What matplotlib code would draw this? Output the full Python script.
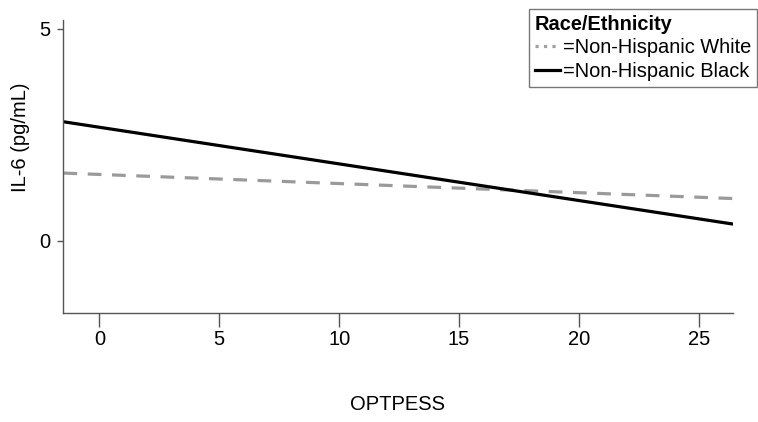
import matplotlib
matplotlib.use("Agg")
import matplotlib.pyplot as plt
from matplotlib.lines import Line2D

plt.rcParams['font.family'] = ['Liberation Sans', 'DejaVu Sans']

# --- Fitted lines (endpoints) ---
optpess = [-1.5, 26.4]
il6_white = [1.60, 1.00]
il6_black = [2.81, 0.40]

x_ticks = [0, 5, 10, 15, 20, 25]
y_ticks = [0, 5]

fig = plt.figure(figsize=(7.58, 4.22), dpi=100)
ax = fig.add_axes([0.0831, 0.2583, 0.8839, 0.6943])

ax.plot(optpess, il6_white, color='#9a9a9a', linewidth=2.3, dashes=(4.3, 3.3))
ax.plot(optpess, il6_black, color='black', linewidth=2.3)

ax.set_xlim(-1.52, 26.43)
ax.set_ylim(-1.70, 5.21)
ax.set_xticks(x_ticks)
ax.set_yticks(y_ticks)

for side in ['top', 'right']:
    ax.spines[side].set_visible(False)
for side in ['left', 'bottom']:
    ax.spines[side].set_color('#555555')
    ax.spines[side].set_linewidth(1.0)

ax.tick_params(axis='x', length=10, width=1, color='#555555', labelsize=14.5, pad=2)
ax.tick_params(axis='y', length=4.3, width=1, color='#555555', labelsize=14.5, pad=5)

ax.set_xlabel('OPTPESS', fontsize=14.5, va='center')
ax.xaxis.set_label_coords(0.5, -0.314)
ax.set_ylabel('IL-6 (pg/mL)', fontsize=14.5, va='center')
ax.yaxis.set_label_coords(-0.064, 0.60)

# --- Legend ---
handles = [Line2D([], [], color='#a0a0a0', linewidth=2.3, linestyle=':'),
           Line2D([], [], color='black', linewidth=2.3)]
labels = ['=Non-Hispanic White', '=Non-Hispanic Black']
leg = fig.legend(handles, labels, title='Race/Ethnicity', loc='upper right',
                 bbox_to_anchor=(757 / 758, 1 - 9 / 422), bbox_transform=fig.transFigure,
                 borderaxespad=0, fontsize=14.4, title_fontsize=14.4, handlelength=1.25,
                 handletextpad=0.15, labelspacing=0.22, borderpad=0.3,
                 fancybox=False, frameon=True, alignment='left')
leg.get_title().set_fontweight('bold')
leg.get_frame().set_edgecolor('#555555')
leg.get_frame().set_linewidth(1.0)

fig.savefig('out.png', dpi=100)
